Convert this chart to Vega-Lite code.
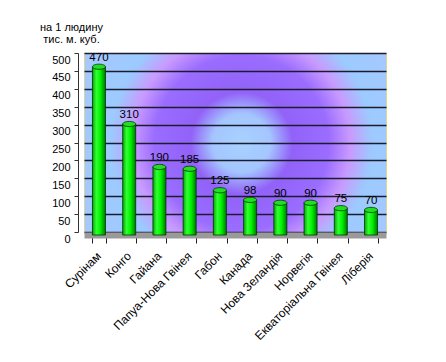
{
  "$schema": "https://vega.github.io/schema/vega-lite/v6.json",
  "autosize": {"type": "none"},
  "width": 302,
  "height": 179,
  "padding": {"left": 84, "top": 53, "right": 60, "bottom": 130},
  "background": "white",
  "config": {
    "font": "Liberation Sans",
    "view": {
      "stroke": "#d8d890",
      "strokeWidth": 1,
      "fill": {
        "gradient": "radial",
        "x1": 0.52, "y1": 0.5, "r1": 0,
        "x2": 0.52, "y2": 0.5, "r2": 0.6,
        "stops": [
          {"offset": 0, "color": "#a8d2ff"},
          {"offset": 0.16, "color": "#a4c6ff"},
          {"offset": 0.28, "color": "#9262f8"},
          {"offset": 0.48, "color": "#9a6cff"},
          {"offset": 0.6, "color": "#c89aff"},
          {"offset": 0.72, "color": "#9ccaff"},
          {"offset": 1, "color": "#a8c8ff"}
        ]
      }
    }
  },
  "data": {
    "values": [
      {"country": "Сурінам", "value": 470},
      {"country": "Конго", "value": 310},
      {"country": "Гайана", "value": 190},
      {"country": "Папуа-Нова Гвінея", "value": 185},
      {"country": "Габон", "value": 125},
      {"country": "Канада", "value": 98},
      {"country": "Нова Зеландія", "value": 90},
      {"country": "Норвегія", "value": 90},
      {"country": "Екваторіальна Гвінея", "value": 75},
      {"country": "Ліберія", "value": 70}
    ]
  },
  "encoding": {
    "x": {
      "field": "country",
      "type": "nominal",
      "sort": null,
      "scale": {"paddingInner": 0.55, "paddingOuter": 0.27},
      "axis": {
        "title": null,
        "labelAngle": -45,
        "labelFontSize": 12,
        "labelColor": "#000",
        "labelPadding": 7,
        "labelOffset": -4,
        "domainColor": "#9a9a9a",
        "domainWidth": 6,
        "offset": 3,
        "tickColor": "#222",
        "tickBand": "extent",
        "tickOffset": -4,
        "tickSize": 8
      }
    },
    "y": {
      "field": "value",
      "type": "quantitative",
      "scale": {"domain": [0, 500], "nice": false},
      "axis": {
        "values": [0, 50, 100, 150, 200, 250, 300, 350, 400, 450, 500],
        "grid": true,
        "gridColor": "#1c1c2c",
        "gridWidth": 1.5,
        "gridOpacity": 1,
        "labelFontSize": 11,
        "labelColor": "#000",
        "labelPadding": 4,
        "labelOffset": 7,
        "labelOverlap": false,
        "offset": 6,
        "domainColor": "#333",
        "tickColor": "#333",
        "tickSize": 4,
        "title": ["на 1 людину", "тис. м. куб."],
        "titleAngle": 0,
        "titleAlign": "center",
        "titleBaseline": "top",
        "titleFontSize": 11,
        "titleFontWeight": "normal",
        "titleColor": "#000",
        "titleX": -7,
        "titleY": -32,
        "titleLineHeight": 12
      }
    }
  },
  "layer": [
    {
      "mark": {
        "type": "bar",
        "size": 13,
        "yOffset": 3,
        "stroke": "#003300",
        "strokeWidth": 0.8,
        "fill": {
          "gradient": "linear",
          "x1": 0, "y1": 0, "x2": 1, "y2": 0,
          "stops": [
            {"offset": 0, "color": "#00a800"},
            {"offset": 0.3, "color": "#33ff33"},
            {"offset": 0.6, "color": "#00f400"},
            {"offset": 1, "color": "#007800"}
          ]
        }
      }
    },
    {
      "mark": {
        "type": "point",
        "shape": "M-1,0 A1,0.4 0 1,0 1,0 A1,0.4 0 1,0 -1,0 Z",
        "size": 169,
        "yOffset": 3,
        "filled": true,
        "fill": "#22dd22",
        "stroke": "#003300",
        "strokeWidth": 0.8,
        "opacity": 1
      }
    },
    {
      "mark": {
        "type": "text",
        "baseline": "bottom",
        "dy": -1,
        "fontSize": 11.5,
        "color": "#000"
      },
      "encoding": {
        "text": {"field": "value", "type": "quantitative"}
      }
    }
  ]
}
